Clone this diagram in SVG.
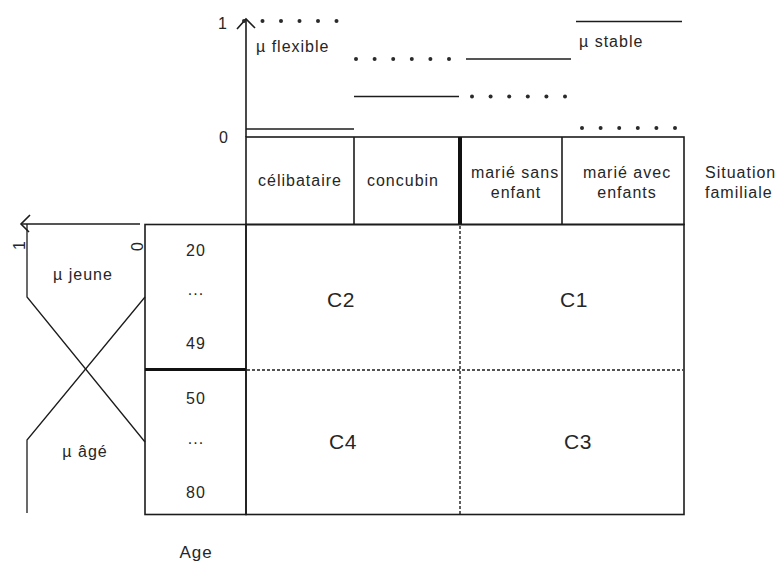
<svg xmlns="http://www.w3.org/2000/svg" width="780" height="563" viewBox="0 0 780 563">
  <defs>
    <style>
      .ln { stroke: #1c1c1c; stroke-width: 1.6; fill: none; }
      .thin { stroke: #1c1c1c; stroke-width: 1.3; fill: none; }
      .dash { stroke: #1c1c1c; stroke-width: 1.4; fill: none; stroke-dasharray: 3 2; }
      .dot { fill: #2a2a2a; }
      .t { font-family: "Liberation Sans", Arial, sans-serif; font-size: 16px; fill: #262626; letter-spacing: 1px; }
      .c { text-anchor: middle; }
      .big { font-size: 21px; letter-spacing: 0.5px; }
    </style>
  </defs>
  <rect width="780" height="563" fill="#ffffff"/>

  <!-- membership axis for family situation (top) -->
  <g id="axis-situation">
    <line class="ln" x1="246" y1="137" x2="246" y2="20"/>
    <polyline class="ln" points="237,29 246,19 255,28"/>
    <text class="t" x="223" y="29" text-anchor="middle">1</text>
    <text class="t" x="224" y="143" text-anchor="middle">0</text>
    <text class="t" x="256" y="52">µ flexible</text>
    <text class="t" x="579" y="47">µ stable</text>
    <!-- flexible degree, dotted steps -->
    <g class="dot">
      <circle cx="244" cy="21" r="2"/><circle cx="262.5" cy="21" r="2"/><circle cx="281" cy="21" r="2"/>
      <circle cx="299.5" cy="21" r="2"/><circle cx="318" cy="21" r="2"/><circle cx="336.5" cy="21" r="2"/>
      <circle cx="356" cy="59" r="2"/><circle cx="374.6" cy="59" r="2"/><circle cx="393.2" cy="59" r="2"/>
      <circle cx="411.8" cy="59" r="2"/><circle cx="430.4" cy="59" r="2"/><circle cx="449" cy="59" r="2"/>
      <circle cx="472" cy="96.5" r="2"/><circle cx="490.6" cy="96.5" r="2"/><circle cx="509.2" cy="96.5" r="2"/>
      <circle cx="527.8" cy="96.5" r="2"/><circle cx="546.4" cy="96.5" r="2"/><circle cx="565" cy="96.5" r="2"/>
      <circle cx="582" cy="128" r="2"/><circle cx="600.6" cy="128" r="2"/><circle cx="619.2" cy="128" r="2"/>
      <circle cx="637.8" cy="128" r="2"/><circle cx="656.4" cy="128" r="2"/><circle cx="675" cy="128" r="2"/>
    </g>
    <!-- stable degree, solid steps -->
    <line class="ln" x1="246" y1="129" x2="354" y2="129"/>
    <line class="ln" x1="354" y1="96.5" x2="459" y2="96.5"/>
    <line class="ln" x1="466" y1="59" x2="571" y2="59"/>
    <line class="ln" x1="576" y1="21.5" x2="682" y2="21.5"/>
  </g>

  <!-- family situation header cells -->
  <g id="header-situation">
    <rect class="ln" x="246" y="137" width="438" height="87.5"/>
    <line class="ln" x1="354" y1="137" x2="354" y2="224.5"/>
    <line class="ln" x1="562" y1="137" x2="562" y2="224.5"/>
    <line stroke="#111" stroke-width="4" x1="460" y1="137" x2="460" y2="224.5"/>
    <text class="t c" x="300" y="186">célibataire</text>
    <text class="t c" x="403" y="186">concubin</text>
    <text class="t c" x="515" y="178">marié sans</text>
    <text class="t c" x="516" y="198">enfant</text>
    <text class="t c" x="627" y="178">marié avec</text>
    <text class="t c" x="627" y="198">enfants</text>
    <text class="t" x="705" y="178">Situation</text>
    <text class="t" x="705" y="198">familiale</text>
  </g>

  <!-- class grid -->
  <g id="grid-classes">
    <rect class="ln" x="246" y="224.5" width="438" height="290"/>
    <line class="dash" x1="460" y1="226" x2="460" y2="514"/>
    <line class="dash" x1="247" y1="370" x2="683" y2="370"/>
    <text class="t c big" x="341" y="307">C2</text>
    <text class="t c big" x="574" y="307">C1</text>
    <text class="t c big" x="343" y="449">C4</text>
    <text class="t c big" x="578" y="449">C3</text>
  </g>

  <!-- age cells -->
  <g id="column-age">
    <rect class="ln" x="145" y="224.5" width="101" height="290"/>
    <line stroke="#111" stroke-width="3" x1="145" y1="369.5" x2="246" y2="369.5"/>
    <text class="t c" x="196" y="256">20</text>
    <text class="t c" x="196" y="295">...</text>
    <text class="t c" x="196" y="349">49</text>
    <text class="t c" x="196" y="404">50</text>
    <text class="t c" x="196" y="444">...</text>
    <text class="t c" x="196" y="498">80</text>
    <text class="t c" x="196" y="558" style="font-size:17px">Age</text>
  </g>

  <!-- membership axis for age (left) -->
  <g id="axis-age">
    <line class="ln" x1="21" y1="224" x2="140" y2="224"/>
    <polyline class="ln" points="30,215 21,224 29,232"/>
    <text class="t" transform="translate(20,245) rotate(-90)" text-anchor="middle" dy="5">1</text>
    <text class="t" transform="translate(138,246) rotate(-90)" text-anchor="middle" dy="5">0</text>
    <polyline class="thin" points="27,224 27,297 145,442"/>
    <polyline class="thin" points="145,297 27,440 27,513"/>
    <text class="t c" x="83" y="280">µ jeune</text>
    <text class="t c" x="85" y="457">µ âgé</text>
  </g>
</svg>
